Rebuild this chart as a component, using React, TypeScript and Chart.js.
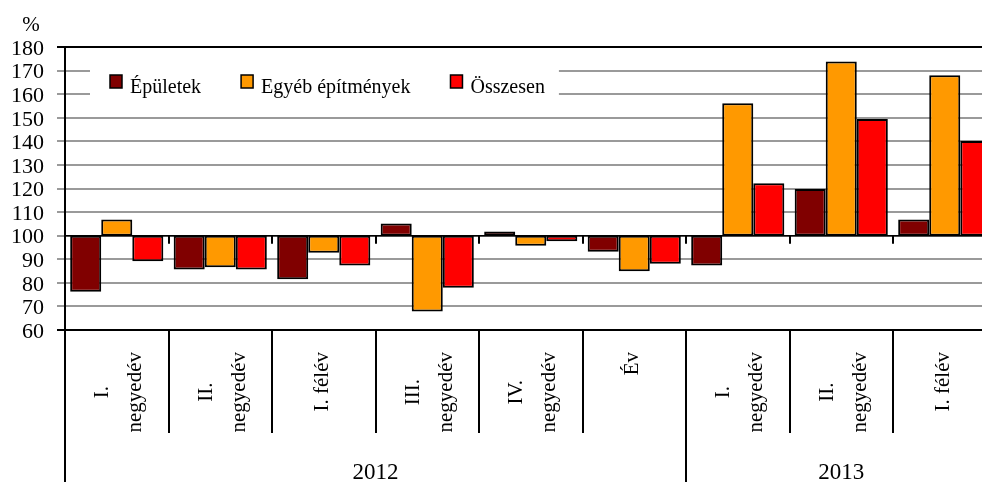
import React, { useEffect, useRef } from 'react';
import { Chart, registerables } from 'chart.js';

Chart.register(...registerables);

// ---- data ----
const categoryLines: string[][] = [
  ['I.', 'negyedév'],
  ['II.', 'negyedév'],
  ['I. félév'],
  ['III.', 'negyedév'],
  ['IV.', 'negyedév'],
  ['Év'],
  ['I.', 'negyedév'],
  ['II.', 'negyedév'],
  ['I. félév'],
];
const years = ['2012', '2013'];
const yearSpans = [6, 3];
const seriesNames = ['Épületek', 'Egyéb építmények', 'Összesen'];
const epuletek = [76.2, 85.7, 81.5, 105.2, 101.8, 93.2, 87.3, 119.8, 106.9];
const egyebEpitmenyek = [106.9, 86.6, 92.8, 67.8, 95.7, 84.9, 156.1, 173.9, 168.0];
const osszesen = [89.2, 85.7, 87.3, 77.9, 97.6, 88.1, 122.2, 149.5, 140.1];
const baseValue = 100;
const yMin = 60;
const yMax = 180;
const yStep = 10;
const yUnit = '%';

const colors = ['#800000', '#FF9900', '#FF0000'];
const FONT = "'Liberation Serif', serif";

Chart.defaults.font.family = FONT;
Chart.defaults.font.size = 21;
Chart.defaults.color = '#000';

const overlayPlugin = {
  id: 'overlay',
  afterDatasetsDraw(chart: any) {
    const ctx = chart.ctx as CanvasRenderingContext2D;
    const area = chart.chartArea;
    const x = chart.scales.x;
    const y = chart.scales.y;
    const half = (x.getPixelForValue(1) - x.getPixelForValue(0)) / 2;
    const y100 = y.getPixelForValue(baseValue);
    ctx.save();
    ctx.strokeStyle = '#000';
    ctx.lineWidth = 1.5;
    ctx.beginPath();
    ctx.moveTo(area.left, y100);
    ctx.lineTo(area.right + 20, y100);
    ctx.stroke();
    ctx.lineWidth = 2;
    for (let i = 1; i <= categoryLines.length; i++) {
      const bx = Math.round(x.getPixelForValue(i - 1) + half);
      ctx.beginPath();
      ctx.moveTo(bx, y100);
      ctx.lineTo(bx, y100 + 8);
      ctx.stroke();
    }
    // legend
    ctx.font = `20px ${FONT}`;
    ctx.textBaseline = 'alphabetic';
    ctx.textAlign = 'left';
    const legLeft = area.left + 25;
    const legTop = area.top + 13;
    let cx = area.left + 45;
    const items: { sx: number; tx: number }[] = [];
    chart.data.datasets.forEach((ds: any) => {
      items.push({ sx: cx, tx: cx + 20 });
      cx = cx + 20 + ctx.measureText(ds.label).width + 40;
    });
    const legRight = cx - 40 + 14;
    ctx.fillStyle = '#fff';
    ctx.fillRect(legLeft, legTop, legRight - legLeft, 48);
    chart.data.datasets.forEach((ds: any, i: number) => {
      const it = items[i];
      ctx.fillStyle = ds.backgroundColor;
      ctx.fillRect(it.sx, area.top + 28, 12, 13);
      ctx.strokeStyle = '#000';
      ctx.lineWidth = 1.5;
      ctx.strokeRect(it.sx, area.top + 28, 12, 13);
      ctx.fillStyle = '#000';
      ctx.fillText(ds.label, it.tx, area.top + 46);
    });
    ctx.restore();
  },
  afterDraw(chart: any) {
    const ctx = chart.ctx as CanvasRenderingContext2D;
    const area = chart.chartArea;
    const x = chart.scales.x;
    const y = chart.scales.y;
    const half = (x.getPixelForValue(1) - x.getPixelForValue(0)) / 2;
    const H = chart.height;
    ctx.save();
    // y tick labels from the scale's ticks
    ctx.fillStyle = '#000';
    ctx.font = `22px ${FONT}`;
    ctx.textAlign = 'right';
    ctx.textBaseline = 'middle';
    y.ticks.forEach((t: any) => {
      ctx.fillText(String(t.value), area.left - 21, y.getPixelForValue(t.value) + 2);
    });
    ctx.strokeStyle = '#000';
    ctx.lineWidth = 2;
    ctx.beginPath();
    ctx.moveTo(area.left, area.bottom);
    ctx.lineTo(area.left, H);
    ctx.stroke();
    let idx = 0;
    const yearEnds = new Set<number>();
    yearSpans.forEach((s) => {
      idx += s;
      yearEnds.add(idx);
    });
    for (let i = 1; i <= categoryLines.length; i++) {
      const bx = Math.round(x.getPixelForValue(i - 1) + half);
      ctx.beginPath();
      ctx.moveTo(bx, area.bottom);
      ctx.lineTo(bx, yearEnds.has(i) && i < categoryLines.length ? H : area.bottom + 103);
      ctx.stroke();
    }
    ctx.font = `21px ${FONT}`;
    ctx.textAlign = 'center';
    ctx.textBaseline = 'alphabetic';
    const topY = area.bottom + 22;
    categoryLines.forEach((lines, i) => {
      const cxp = x.getPixelForValue(i);
      const blockW = Math.max(...lines.map((l) => ctx.measureText(l).width));
      const offsets = lines.length === 1 ? [4] : [-8.5, 24.5];
      lines.forEach((line, j) => {
        ctx.save();
        ctx.translate(cxp + offsets[j], topY);
        ctx.rotate(-Math.PI / 2);
        ctx.fillText(line, -blockW / 2, 0);
        ctx.restore();
      });
    });
    ctx.font = `23px ${FONT}`;
    let start = 0;
    years.forEach((yr, k) => {
      const end = start + yearSpans[k];
      const l = x.getPixelForValue(start) - half;
      const r = x.getPixelForValue(end - 1) + half;
      ctx.fillText(yr, (l + r) / 2, H - 3);
      start = end;
    });
    ctx.font = `21px ${FONT}`;
    ctx.fillText(yUnit, 31, 31);
    ctx.restore();
  },
};

export default function App() {
  const ref = useRef<HTMLCanvasElement | null>(null);
  useEffect(() => {
    if (!ref.current) return;
    const toRange = (arr: number[]) => arr.map((v) => [baseValue, v]);
    const chart = new Chart(ref.current, {
      type: 'bar',
      data: {
        labels: categoryLines.map((c) => c.join(' ')),
        datasets: [
          { label: seriesNames[0], data: toRange(epuletek) as any, backgroundColor: colors[0] },
          { label: seriesNames[1], data: toRange(egyebEpitmenyek) as any, backgroundColor: colors[1] },
          { label: seriesNames[2], data: toRange(osszesen) as any, backgroundColor: colors[2] },
        ],
      },
      options: {
        responsive: false,
        animation: false,
        devicePixelRatio: 1,
        layout: { padding: { top: 47, bottom: 152, right: 3.5, left: 0 } },
        datasets: {
          bar: {
            categoryPercentage: 0.9,
            barPercentage: 1.0,
            borderColor: '#000',
            borderWidth: 2,
            borderSkipped: false,
          },
        },
        plugins: {
          legend: { display: false },
          tooltip: { enabled: false },
        },
        scales: {
          x: {
            display: false,
          },
          y: {
            min: yMin,
            max: yMax,
            afterFit: (scale: any) => {
              scale.width = 65;
            },
            ticks: {
              stepSize: yStep,
              autoSkip: false,
              display: false,
            },
            grid: {
              color: (c: any) =>
                c.tick && (c.tick.value === yMax || c.tick.value === yMin) ? '#000' : '#9a9a9a',
              lineWidth: 2,
              tickLength: 8,
            },
            border: { display: true, color: '#000', width: 2 },
          },
        },
      },
      plugins: [overlayPlugin],
    });
    return () => chart.destroy();
  }, []);
  return (
    <div style={{ position: 'fixed', left: 0, top: 0, width: 982, height: 482, overflow: 'hidden', background: '#fff' }}>
      <canvas ref={ref} width={1000} height={482} style={{ width: 1000, height: 482, display: 'block' }} />
    </div>
  );
}
